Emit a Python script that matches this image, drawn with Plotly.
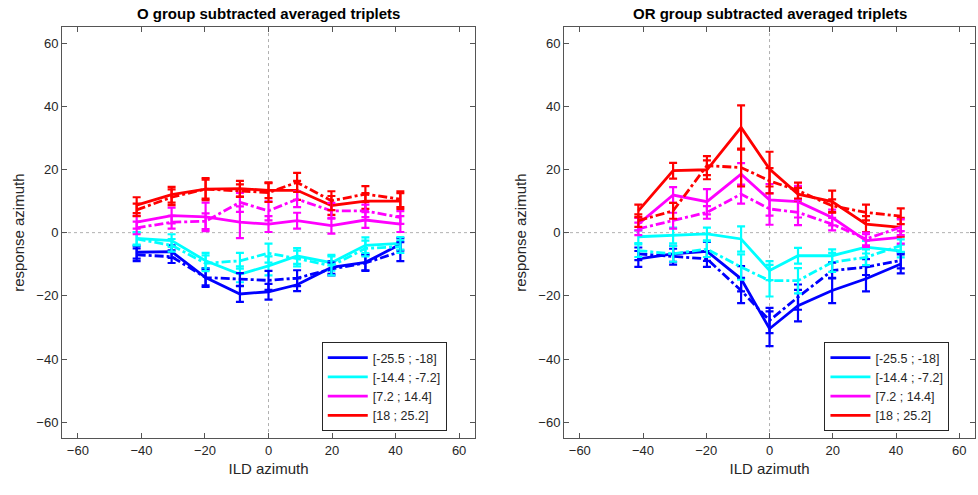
import plotly.graph_objects as go

x_ild = [-41.5, -30.5, -19.8, -9, 0, 9, 19.8, 30.5, 41.5]
labels = ["[-25.5 ; -18]", "[-14.4 ; -7.2]", "[7.2 ; 14.4]", "[18 ; 25.2]"]
colors = ["#0000FF", "#00FFFF", "#FF00FF", "#FF0000"]

# O group (left panel): solid and dash-dot series per bin
o_solid = [
    [-6.2, -6.0, -14.2, -19.4, -18.7, -16.5, -11.0, -9.4, -3.7],
    [-1.8, -2.5, -8.9, -13.2, -10.5, -7.4, -9.5, -4.0, -3.4],
    [3.3, 5.4, 5.0, 3.3, 2.7, 3.8, 2.2, 4.0, 2.7],
    [8.7, 12.0, 13.8, 13.9, 13.4, 13.4, 8.6, 10.0, 10.0],
]
o_solid_err = [
    [2, 2, 3, 2.5, 2.5, 2, 2, 2.5, 2],
    [2, 2, 2.5, 2.5, 3, 2.5, 2.5, 2.5, 2],
    [2, 2.5, 4.5, 5, 2.5, 2.5, 2.5, 2.5, 2.5],
    [2.5, 2.5, 3.5, 2.5, 2.5, 3, 3, 2.5, 2.5],
]
o_dash = [
    [-7.0, -7.6, -14.2, -14.8, -15.1, -14.4, -11.5, -9.6, -6.0],
    [-2.0, -4.0, -9.7, -8.9, -6.5, -8.2, -10.5, -5.0, -4.4],
    [1.5, 3.3, 3.6, 9.6, 6.9, 10.6, 6.9, 6.9, 4.8],
    [7.2, 11.2, 13.8, 13.3, 12.7, 15.9, 10.1, 12.2, 10.6],
]
o_dash_err = [
    [2, 2, 2.5, 2, 3, 2.5, 2, 2.5, 3],
    [2, 2, 2.5, 2.5, 3, 2.5, 3, 2.5, 2],
    [2, 2, 2.5, 3, 3, 2.5, 2.5, 2, 2],
    [2, 2.5, 3, 2, 3, 3, 3, 2.5, 2.5],
]

# OR group (right panel)
or_solid = [
    [-8.3, -6.7, -5.9, -14.6, -30.4, -23.1, -18.3, -14.6, -9.9],
    [-1.3, -0.9, -0.4, -2.0, -12.0, -7.3, -7.3, -4.6, -5.8],
    [2.7, 11.9, 9.8, 18.5, 10.4, 9.8, 4.8, -2.5, -1.5],
    [6.9, 19.6, 19.9, 33.3, 20.1, 12.2, 9.8, 2.7, 1.7],
]
or_solid_err = [
    [2.5, 2.5, 3, 4, 5.5, 5, 4, 4, 3],
    [2, 2.5, 2, 4, 3, 2.5, 2, 2, 2],
    [2, 2.5, 4, 3.5, 5, 5, 2.5, 2, 2],
    [2, 2.5, 3, 7, 5.5, 2, 3.5, 2.5, 3],
]
or_dash = [
    [-6.7, -7.6, -8.3, -18.3, -27.8, -20.4, -12.0, -10.9, -8.8],
    [-5.7, -6.7, -5.2, -10.9, -15.2, -15.2, -9.4, -7.8, -4.1],
    [1.2, 3.8, 6.4, 12.2, 7.5, 6.4, 2.7, -2.0, 1.7],
    [3.8, 6.9, 21.2, 20.6, 16.4, 13.3, 8.5, 6.4, 5.2],
]
or_dash_err = [
    [2, 2.5, 2.5, 4, 4, 4, 2.5, 2.5, 2.5],
    [2, 2.5, 2.5, 4, 5, 4, 3, 2.5, 2],
    [2, 2.5, 2, 3, 5, 4, 2, 2, 2.5],
    [2, 2.5, 3, 6, 4, 2.5, 2, 2.5, 2.5],
]

fig = go.Figure()

def add_series(vals, errs, dash, xa, ya, legend, show):
    for i in range(4):
        fig.add_trace(go.Scatter(
            x=x_ild, y=vals[i], mode="lines",
            line=dict(color=colors[i], width=2.8, dash=dash),
            error_y=dict(type="data", array=errs[i], color=colors[i],
                         thickness=2.2, width=4, visible=True),
            name=labels[i], showlegend=show, legend=legend,
            xaxis=xa, yaxis=ya,
        ))

add_series(o_solid, o_solid_err, "solid", "x", "y", "legend", True)
add_series(o_dash, o_dash_err, "dashdot", "x", "y", "legend", False)
add_series(or_solid, or_solid_err, "solid", "x2", "y2", "legend2", True)
add_series(or_dash, or_dash_err, "dashdot", "x2", "y2", "legend2", False)

axcol = "#555555"
tickfont = dict(family="Liberation Sans, Arial", size=13, color="#262626")
ticks = [-60, -40, -20, 0, 20, 40, 60]

def xaxis(dom, anchor):
    return dict(domain=dom, anchor=anchor, range=[-65, 65], tickvals=ticks,
                ticks="inside", ticklen=5, tickcolor=axcol, showline=True,
                linecolor=axcol, linewidth=1, mirror="ticks", showgrid=False,
                zeroline=False, tickfont=tickfont, automargin=False,
                title=dict(text="ILD azimuth", font=dict(family="Liberation Sans, Arial", size=15, color="#262626"), standoff=6))

def yaxis(anchor):
    return dict(domain=[0.115, 0.945], anchor=anchor, range=[-65, 65], tickvals=ticks,
                ticks="inside", ticklen=5, tickcolor=axcol, showline=True,
                linecolor=axcol, linewidth=1, mirror="ticks", showgrid=False,
                zeroline=False, tickfont=tickfont, automargin=False,
                title=dict(text="response azimuth", font=dict(family="Liberation Sans, Arial", size=15, color="#262626"), standoff=8))

legstyle = dict(bgcolor="white", bordercolor="#262626", borderwidth=1,
                font=dict(family="Liberation Sans, Arial", size=12.5, color="#262626"),
                xanchor="left", yanchor="top", tracegroupgap=0, itemwidth=40)

fig.update_layout(
    width=978, height=495, margin=dict(l=0, r=0, t=0, b=0, autoexpand=False),
    plot_bgcolor="white", paper_bgcolor="white",
    xaxis=xaxis([0.0634, 0.4857], "y"),
    yaxis=yaxis("x"),
    xaxis2=xaxis([0.5767, 0.997], "y2"),
    yaxis2=yaxis("x2"),
    legend=dict(x=0.329, y=0.309, **legstyle),
    legend2=dict(x=0.843, y=0.309, **legstyle),
    annotations=[
        dict(text="<b>O group subtracted averaged triplets</b>", x=0.2745, y=1.0, xref="paper", yref="paper",
             xanchor="center", yanchor="top", yshift=-3, showarrow=False,
             font=dict(family="Liberation Sans, Arial", size=15, color="#000000")),
        dict(text="<b>OR group subtracted averaged triplets</b>", x=0.787, y=1.0, xref="paper", yref="paper",
             xanchor="center", yanchor="top", yshift=-3, showarrow=False,
             font=dict(family="Liberation Sans, Arial", size=15, color="#000000")),
    ],
    shapes=[
        dict(type="line", xref="x", yref="y", x0=0, x1=0, y0=-65, y1=65, line=dict(color="#b0b0b0", width=1, dash="dot"), layer="below"),
        dict(type="line", xref="x", yref="y", x0=-65, x1=65, y0=0, y1=0, line=dict(color="#b0b0b0", width=1, dash="dot"), layer="below"),
        dict(type="line", xref="x2", yref="y2", x0=0, x1=0, y0=-65, y1=65, line=dict(color="#b0b0b0", width=1, dash="dot"), layer="below"),
        dict(type="line", xref="x2", yref="y2", x0=-65, x1=65, y0=0, y1=0, line=dict(color="#b0b0b0", width=1, dash="dot"), layer="below"),
    ],
)

fig.write_html("out.html", config={"displayModeBar": False},
               post_script="document.body.style.margin='0';")
